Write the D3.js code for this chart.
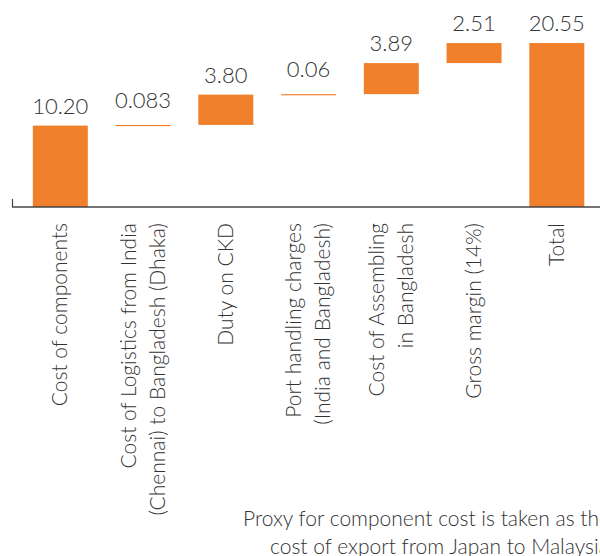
<!DOCTYPE html>
<html><head><meta charset="utf-8">
<script src="https://cdn.jsdelivr.net/npm/d3@7"></script>
<style>
html,body{margin:0;padding:0;background:#fff;}
svg text{font-family:Lato,"Open Sans",sans-serif;fill:#333;font-weight:300;}
</style></head>
<body>
<svg id="chart" width="600" height="556"></svg>
<script>
const categories = [
  ["Cost of components"],
  ["Cost of Logistics from India", "(Chennai) to Bangladesh (Dhaka)"],
  ["Duty on CKD"],
  ["Port handling charges", "(India and Bangladesh)"],
  ["Cost of Assembling", "in Bangladesh"],
  ["Gross margin (14%)"],
  ["Total"]
];
const values = [10.20, 0.083, 3.80, 0.06, 3.89, 2.51, 20.55];
const valueLabels = ["10.20", "0.083", "3.80", "0.06", "3.89", "2.51", "20.55"];
const isTotal = [false, false, false, false, false, false, true];
const footnote = ["Proxy for component cost is taken as the", "cost of export from Japan to Malaysia"];

const svg = d3.select("#chart");
const color = "#F1802D";

let cum = 0;
const segs = values.map((v, i) => {
  if (isTotal[i]) return {i, y0: 0, y1: v};
  const s = {i, y0: cum, y1: cum + v};
  cum += v;
  return s;
});

const x = d3.scalePoint().domain(d3.range(categories.length)).range([60.3, 556.8]);
const bw = 55;
const y = d3.scaleLinear().domain([0, 20.55]).range([207, 43]);

svg.selectAll("rect.bar").data(segs).join("rect")
  .attr("class", "bar")
  .attr("x", d => x(d.i) - bw / 2)
  .attr("width", bw)
  .attr("y", d => y(d.y1))
  .attr("height", d => Math.max(1.2, y(d.y0) - y(d.y1)))
  .attr("fill", color);

svg.selectAll("text.val").data(segs).join("text")
  .attr("class", "val")
  .attr("x", d => x(d.i))
  .attr("y", d => y(d.y1) - (y(d.y0) - y(d.y1) < 3 ? 17 : 12))
  .attr("text-anchor", "middle")
  .attr("font-size", 22)
  .text(d => valueLabels[d.i]);

const axisY = y(0);
svg.append("line").attr("x1", 12).attr("x2", 600).attr("y1", axisY).attr("y2", axisY)
  .attr("stroke", "#444").attr("stroke-width", 1.5);
svg.append("line").attr("x1", 12.5).attr("x2", 12.5).attr("y1", axisY - 8).attr("y2", axisY)
  .attr("stroke", "#444").attr("stroke-width", 1.2);

const lh = 29;
categories.forEach((lines, i) => {
  const n = lines.length;
  lines.forEach((t, k) => {
    const cx = x(i) + (k - (n - 1) / 2) * lh + 7;
    svg.append("text")
      .attr("transform", `translate(${cx},223) rotate(-90)`)
      .attr("text-anchor", "end")
      .attr("font-size", 21)
      .text(t);
  });
});

const fx = [243, 270], fy = [526, 554];
footnote.forEach((t, k) => {
  svg.append("text").attr("x", fx[k]).attr("y", fy[k]).attr("font-size", 21).text(t);
});
</script>
</body></html>
